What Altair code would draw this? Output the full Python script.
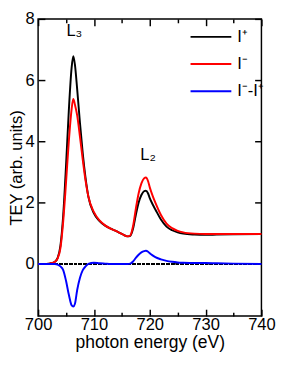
import altair as alt
import pandas as pd

energy = [700, 701, 702, 702.5, 703, 703.5, 704, 704.5, 705, 705.5, 706, 706.3, 706.6, 707, 707.5,
          708, 708.5, 709, 710, 711, 712, 713, 714, 715, 716, 716.5, 717, 717.5, 718, 718.5,
          719, 719.3, 719.7, 720, 720.5, 721, 722, 723, 724, 725, 726, 728, 730, 732, 735, 740]

i_plus = [0, 0, 0.01, 0.03, 0.07, 0.2, 0.6, 1.6, 3.2, 5.0, 6.4, 6.78, 6.5, 5.7, 4.6,
          3.6, 2.8, 2.2, 1.65, 1.4, 1.25, 1.15, 1.07, 0.98, 0.9, 0.92, 1.15, 1.6, 2.0, 2.25,
          2.38, 2.39, 2.3, 2.15, 1.95, 1.78, 1.45, 1.22, 1.1, 1.03, 0.99, 0.96, 0.95, 0.96, 0.97, 0.98]

i_minus = [0, 0, 0.01, 0.03, 0.07, 0.18, 0.52, 1.4, 2.65, 4.0, 5.05, 5.39, 5.2, 4.85, 4.15,
           3.4, 2.72, 2.2, 1.69, 1.42, 1.26, 1.15, 1.07, 0.98, 0.9, 0.93, 1.23, 1.8, 2.3, 2.63,
           2.8, 2.82, 2.7, 2.5, 2.23, 2.0, 1.6, 1.32, 1.17, 1.08, 1.03, 0.99, 0.98, 0.98, 0.98, 0.98]

diff = [0, 0, 0, 0, 0, -0.02, -0.08, -0.2, -0.55, -1.0, -1.35, -1.39, -1.3, -0.85, -0.45,
        -0.2, -0.08, 0.0, 0.04, 0.02, 0.01, 0, 0, 0, 0, 0.01, 0.08, 0.2, 0.3, 0.38,
        0.42, 0.43, 0.4, 0.35, 0.28, 0.22, 0.15, 0.1, 0.07, 0.05, 0.04, 0.03, 0.03, 0.02, 0.01, 0.0]

series_names = ["I\u207a", "I\u207b", "I\u207b-I\u207a"]
series_colors = ["#000000", "#ff0000", "#0000ff"]

ann_x = [706.5, 719.7]
ann_y = [7.6, 3.55]
ann_text = ["L\u2083", "L\u2082"]

x_major = [700, 710, 720, 730, 740]
x_minor = [705, 715, 725, 735]
y_major = [0, 2, 4, 6, 8]

rows = []
for name, vals in zip(series_names, [i_plus, i_minus, diff]):
    for e, v in zip(energy, vals):
        rows.append({"E": e, "v": v, "s": name})
df = pd.DataFrame(rows)
ann_df = pd.DataFrame({"x": ann_x, "y": ann_y, "t": ann_text})

FONT = "Liberation Sans"
xs = alt.Scale(domain=[700, 740], nice=False, zero=False)
ys = alt.Scale(domain=[-1.7, 8], nice=False, zero=False)

lines = alt.Chart(df).mark_line(strokeWidth=2, interpolate="monotone").encode(
    x=alt.X("E:Q", scale=xs, axis=alt.Axis(values=x_major, orient="bottom", tickSize=7, offset=-7,
                                           labelPadding=1, labelFlush=False,
                                           title="photon energy (eV)", titlePadding=1)),
    y=alt.Y("v:Q", scale=ys, axis=alt.Axis(values=y_major, orient="left", tickSize=7, offset=-7,
                                           labelPadding=4, title="TEY (arb. units)", titlePadding=0,
                                           titleFontSize=17)),
    color=alt.Color("s:N", scale=alt.Scale(domain=series_names, range=series_colors),
                    legend=alt.Legend(title=None, orient="none", legendX=156, legendY=6,
                                      symbolType="stroke", symbolSize=1764, symbolStrokeWidth=2,
                                      labelFontSize=17, labelFont=FONT, labelOffset=5,
                                      labelExpr="datum.label + '    '",
                                      clipHeight=25, rowPadding=3)),
)

zero = alt.Chart(df).mark_rule(color="black", strokeWidth=1, strokeDash=[3, 2]).encode(
    y=alt.datum(0, scale=ys, axis=None)
)


def ghost(xaxis, yaxis):
    return alt.Chart(df).mark_line(opacity=0).encode(
        x=alt.X("E:Q", scale=xs, axis=xaxis),
        y=alt.Y("v:Q", scale=ys, axis=yaxis),
        detail="s:N",
    )


g1 = ghost(alt.Axis(values=x_minor, orient="bottom", tickSize=4, offset=-4, labels=False, title=None), None)
g2 = ghost(alt.Axis(values=x_major, orient="top", tickSize=7, offset=-7, labels=False, title=None), None)
g3 = ghost(alt.Axis(values=x_minor, orient="top", tickSize=4, offset=-4, labels=False, title=None), None)
g4 = ghost(None, alt.Axis(values=y_major, orient="right", tickSize=7, offset=-7, labels=False, title=None))

ann = alt.Chart(ann_df).mark_text(fontSize=17, font=FONT, color="black").encode(
    x=alt.X("x:Q", scale=xs, axis=None),
    y=alt.Y("y:Q", scale=ys, axis=None),
    text="t:N",
)

chart = alt.layer(zero, lines, g1, g2, g3, g4, ann).resolve_axis(
    x="independent", y="independent"
).properties(
    width=230, height=306,
    autosize=alt.AutoSizeParams(type="none"),
    padding={"left": 31, "top": 6, "right": 15, "bottom": 38},
).configure_axis(
    domain=False, grid=False, labelFont=FONT, labelFontSize=17, labelColor="black",
    titleFont=FONT, titleFontSize=18, titleFontWeight="normal", titleColor="black",
    tickColor="black", tickWidth=1.5,
).configure_view(stroke="black", strokeWidth=1.5)

chart.save("out.html", embed_options={"renderer": "svg", "actions": False})
